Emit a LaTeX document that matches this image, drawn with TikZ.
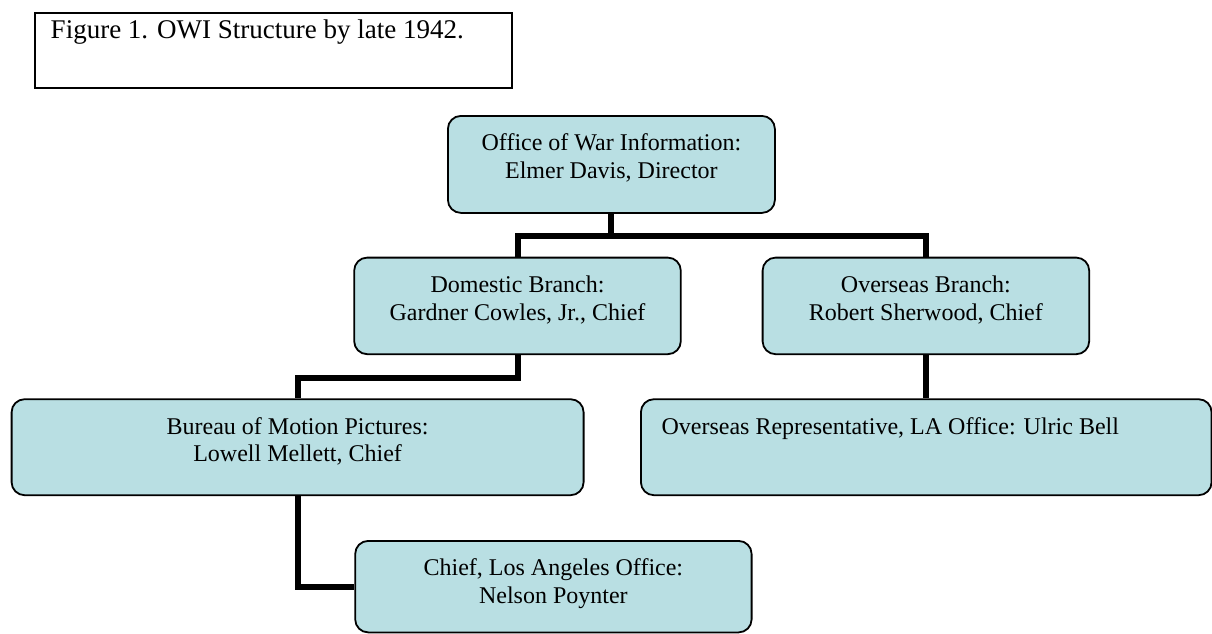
\documentclass[tikz,border=0pt]{standalone}
\usepackage{fontspec}
\setmainfont{Liberation Serif}
\definecolor{boxfill}{RGB}{185,223,227}
\newcommand{\ctrtext}[4]{\parbox[t][#2][t]{#1}{\centering\rule{0pt}{17.5pt}#3\\#4}}
\tikzset{
  orgbox/.style={draw=black, fill=boxfill, line width=0.9pt, rounded corners=6.5pt,
    inner sep=0pt, anchor=north west, font=\fontsize{12pt}{13.8pt}\selectfont},
  capbox/.style={draw=black, line width=0.75pt, inner sep=0pt, anchor=north west,
    font=\fontsize{13.5pt}{15.5pt}\selectfont},
  conn/.style={draw=black, line width=3pt, line join=miter}
}
\begin{document}
\begin{tikzpicture}[x=0.5pt,y=-0.5pt]
\useasboundingbox (0,0) rectangle (1212,633);
\fill[white] (0,0) rectangle (1212,633);

\node[capbox] (cap) at (34,12)
  {\parbox[t][37.5pt][t]{238.5pt}{\hspace*{8pt}\rule{0pt}{12.85pt}Figure 1. OWI Structure by late 1942.}};

\node[orgbox] (owi) at (447,115)
  {\ctrtext{163.5pt}{48.5pt}{Office of War Information:}{Elmer Davis, Director}};
\node[orgbox] (dom) at (353.3,256.7)
  {\ctrtext{163.3pt}{48.3pt}{Domestic Branch:}{Gardner Cowles, Jr., Chief}};
\node[orgbox] (ovs) at (761.7,256.7)
  {\ctrtext{163.3pt}{48.3pt}{Overseas Branch:}{Robert Sherwood, Chief}};
\node[orgbox] (bmp) at (10.7,398.3)
  {\ctrtext{286pt}{48pt}{Bureau of Motion Pictures:}{Lowell Mellett, Chief}};
\node[orgbox] (rep) at (640,398.3)
  {\parbox[t][48pt][t]{285.35pt}{\raggedright\hspace*{10.35pt}\rule{0pt}{17.5pt}Overseas Representative, LA Office: Ulric Bell}};
\node[orgbox] (la) at (354.3,540)
  {\ctrtext{198.2pt}{45.75pt}{Chief, Los Angeles Office:}{Nelson Poynter}};

\draw[conn] (owi.south) -- ++(0,22) coordinate (j1) -| (dom.north);
\draw[conn] (j1) -| (ovs.north);
\draw[conn] (dom.south) -- ++(0,22.7) -| (bmp.north);
\draw[conn] (ovs.south) -- (ovs.south |- rep.north);
\draw[conn] (bmp.south) |- (la.west);
\end{tikzpicture}
\end{document}
